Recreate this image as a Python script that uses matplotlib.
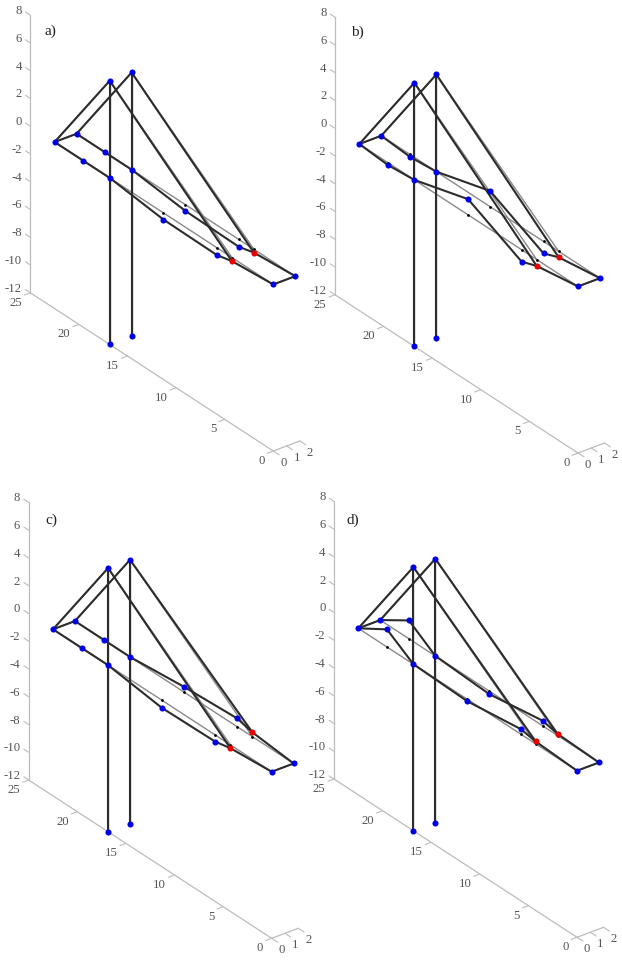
import matplotlib
matplotlib.use('Agg')
import numpy as np
import matplotlib.pyplot as plt

plt.rcParams['font.family'] = ['Liberation Serif', 'DejaVu Serif']

# Deck nodes along the span, two girders, pylon at index 2, cable anchor at index 5
y_nodes = np.array([22.5, 19.55, 16.83, 11.3, 5.8, 4.25, 0.0])
x_front = 0.0
x_back = 1.65
z_deck = 0.0
z_top = 7.0
z_base = -12.0
anchor = 5
pylon = 2

# Vertical displacement of every deck node, per panel
panel_names = ['a)', 'b)', 'c)', 'd)']
dz_front = {
    'a)': [0, 0, 0, -0.48, -0.53, -0.26, 0],
    'b)': [0, -0.17, 0, 1.13, -0.86, -0.46, 0],
    'c)': [0, 0, 0, -0.55, -0.48, -0.24, 0],
    'd)': [0, 1.27, 0, -0.14, 0.36, 0.17, 0],
}
dz_back = {
    'a)': [0, 0, 0, -0.45, -0.53, -0.24, 0],
    'b)': [0, -0.17, 0, 1.13, -0.86, -0.43, 0],
    'c)': [0, 0, 0, 0.38, 0.60, 0.31, 0],
    'd)': [0, 1.32, 0, -0.22, 0.37, 0.12, 0],
}

z_ticks = [8, 6, 4, 2, 0, -2, -4, -6, -8, -10, -12]
y_ticks = [0, 5, 10, 15, 20, 25]
x_ticks = [0, 1, 2]

# pixel offset of each panel in the page and where its letter sits
panel_offset = {'a)': (0, 0), 'b)': (304.7, 2), 'c)': (-1.6, 487.3), 'd)': (303.7, 486.3)}
label_pos = {'a)': (50.5, 31), 'b)': (53, 30.7), 'c)': (52.6, 33.4), 'd)': (49, 34.4)}

W, H = 622, 960
AX_W, AX_H = 311, 480

AXIS_C = '#bcbcbc'
TEXT_C = '#555555'
THIN_C = '#8a8a8a'
THICK_C = '#2c2c2c'
BLUE = '#0000e6'
RED = '#e60000'
FS = 9.2
MS = 4.4


# oblique view of the 3D model, result in pixels of the panel
def project(x, y, z):
    x = np.asarray(x, dtype=float)
    y = np.asarray(y, dtype=float)
    z = np.asarray(z, dtype=float)
    sx = 273.3 + 13.3 * x - 9.72 * y
    sy = 451.0 - 5.0 * x - 6.33 * y - 13.88 * (z + 12)
    return sx, sy


def line3(ax, x, y, z, **kw):
    sx, sy = project(x, y, z)
    ax.plot(sx, sy, solid_capstyle='round', clip_on=False, **kw)


def draw_frame(ax):
    line3(ax, [0, 0], [25, 25], [-12, 8], color=AXIS_C, lw=0.9)
    line3(ax, [0, 0], [0, 25], [-12, -12], color=AXIS_C, lw=0.9)
    line3(ax, [0, 2], [0, 0], [-12, -12], color=AXIS_C, lw=0.9)

    for z in z_ticks:
        line3(ax, [0, 0], [25, 25.5], [z, z], color=AXIS_C, lw=0.8)
        sx, sy = project(0, 25, z)
        ax.text(sx - 8.5, sy - 4, str(z), ha='right', va='center', fontsize=FS, color=TEXT_C)
    for y in y_ticks:
        line3(ax, [0, -0.45], [y, y], [-12, -12], color=AXIS_C, lw=0.8)
        sx, sy = project(0, y, -12)
        ax.text(sx - 8.5, sy + 10, str(y), ha='right', va='center', fontsize=FS, color=TEXT_C)
    for x in x_ticks:
        line3(ax, [x, x], [0, -0.6], [-12, -12], color=AXIS_C, lw=0.8)
        sx, sy = project(x, 0, -12)
        ax.text(sx + 10, sy + 12, str(x), ha='center', va='center', fontsize=FS, color=TEXT_C)


# pylons, end beams and stays of one shape of the bridge
def draw_structure(ax, z_f, z_b, **kw):
    y_p = y_nodes[pylon]
    line3(ax, np.full(len(y_nodes), x_front), y_nodes, z_f, **kw)
    line3(ax, np.full(len(y_nodes), x_back), y_nodes, z_b, **kw)
    line3(ax, [x_front, x_back], [y_nodes[0], y_nodes[0]], [z_f[0], z_b[0]], **kw)
    line3(ax, [x_front, x_back], [y_nodes[-1], y_nodes[-1]], [z_f[-1], z_b[-1]], **kw)
    for x_g, z_g in ((x_front, z_f), (x_back, z_b)):
        line3(ax, [x_g, x_g], [y_p, y_p], [z_base, z_top], **kw)
        line3(ax, [x_g, x_g], [y_nodes[0], y_p], [z_g[0], z_top], **kw)
        line3(ax, [x_g, x_g], [y_p, y_nodes[anchor]], [z_top, z_g[anchor]], **kw)


def draw_panel(name):
    ox, oy = panel_offset[name]
    ax = fig.add_axes([ox / W, 1 - (oy + AX_H) / H, AX_W / W, AX_H / H])
    ax.set_xlim(0, AX_W)
    ax.set_ylim(AX_H, 0)
    ax.axis('off')

    draw_frame(ax)

    z0 = np.full(len(y_nodes), z_deck)
    z_f = z_deck + np.array(dz_front[name], dtype=float)
    z_b = z_deck + np.array(dz_back[name], dtype=float)

    # undeformed shape
    draw_structure(ax, z0, z0, color=THIN_C, lw=1.0)
    for x_g in (x_front, x_back):
        sx, sy = project(np.full(len(y_nodes), x_g), y_nodes, z0)
        ax.plot(sx, sy, 'o', color='black', ms=2.0, mew=0, clip_on=False)

    # deformed shape
    draw_structure(ax, z_f, z_b, color=THICK_C, lw=1.5)
    for x_g, z_g in ((x_front, z_f), (x_back, z_b)):
        sx, sy = project(np.full(len(y_nodes), x_g), y_nodes, z_g)
        keep = np.arange(len(y_nodes)) != anchor
        ax.plot(sx[keep], sy[keep], 'o', color=BLUE, ms=MS, mew=0, clip_on=False)
        ax.plot(sx[anchor], sy[anchor], 'o', color=RED, ms=MS, mew=0, clip_on=False)
        sx, sy = project([x_g, x_g], [y_nodes[pylon]] * 2, [z_base, z_top])
        ax.plot(sx, sy, 'o', color=BLUE, ms=MS, mew=0, clip_on=False)

    ax.text(label_pos[name][0], label_pos[name][1], name, ha='center', va='center',
            fontsize=11, color='#222222')


fig = plt.figure(figsize=(W / 100, H / 100), dpi=100)
for name in panel_names:
    draw_panel(name)

fig.savefig('out.png', dpi=100)
